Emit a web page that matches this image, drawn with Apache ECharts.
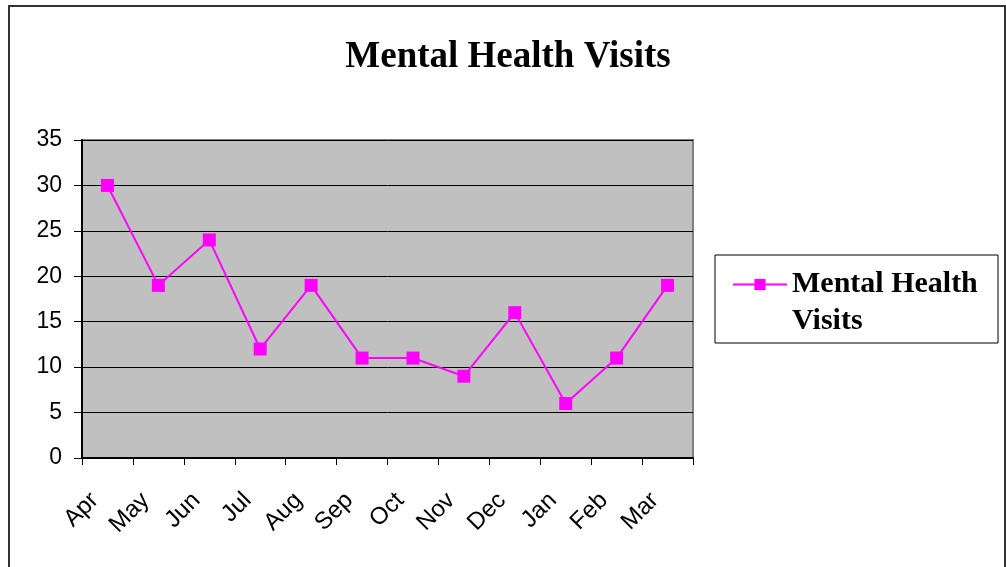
<!DOCTYPE html>
<html>
<head>
<meta charset="utf-8">
<script src="https://cdn.jsdelivr.net/npm/echarts@6/dist/echarts.min.js"></script>
<style>
  html, body { margin: 0; padding: 0; background: #fff; }
  #chart { width: 1006px; height: 567px; }
</style>
</head>
<body>
<div id="chart"></div>
<script>
const months = ['Apr', 'May', 'Jun', 'Jul', 'Aug', 'Sep', 'Oct', 'Nov', 'Dec', 'Jan', 'Feb', 'Mar'];
const visits = [30, 19, 24, 12, 19, 11, 11, 9, 16, 6, 11, 19];
const seriesName = 'Mental Health Visits';

const chart = echarts.init(document.getElementById('chart'));

chart.setOption({
  animation: false,
  backgroundColor: '#fff',
  title: {
    text: seriesName,
    left: 503,
    textAlign: 'center',
    top: 34,
    textStyle: {
      fontFamily: 'Liberation Serif',
      fontWeight: 'bold',
      fontSize: 37,
      color: '#000'
    }
  },
  graphic: [
    {
      type: 'rect',
      shape: {x: 9, y: 6, width: 996, height: 600},
      style: {fill: 'none', stroke: '#333', lineWidth: 2},
      silent: true
    },
    {
      type: 'rect',
      shape: {x: 715, y: 255, width: 283, height: 88},
      style: {fill: 'none', stroke: '#000', lineWidth: 1},
      silent: true
    }
  ],
  legend: {
    left: 727,
    top: 224,
    orient: 'vertical',
    itemWidth: 54,
    itemHeight: 14,
    formatter: function () {
      return '\nMental Health\nVisits';
    },
    textStyle: {
      fontFamily: 'Liberation Serif',
      fontWeight: 'bold',
      fontSize: 30,
      lineHeight: 37,
      color: '#000'
    }
  },
  grid: {
    left: 82,
    right: 313,
    top: 140,
    bottom: 109,
    show: true,
    backgroundColor: '#c0c0c0',
    borderColor: '#808080',
    borderWidth: 2
  },
  xAxis: {
    type: 'category',
    data: months,
    boundaryGap: true,
    axisLine: {lineStyle: {color: '#000', width: 2}},
    axisTick: {show: true, length: 7, lineStyle: {color: '#000'}},
    axisLabel: {
      rotate: 45,
      interval: 0,
      margin: 26,
      padding: [0, 18, 0, 0],
      fontFamily: 'Liberation Sans',
      fontSize: 24,
      color: '#000'
    },
    splitLine: {show: false}
  },
  yAxis: {
    type: 'value',
    min: 0,
    max: 35,
    interval: 5,
    axisLine: {show: true, lineStyle: {color: '#000', width: 2}},
    axisTick: {show: true, length: 8, lineStyle: {color: '#000'}},
    axisLabel: {
      margin: 20,
      fontFamily: 'Liberation Sans',
      fontSize: 23,
      color: '#000'
    },
    splitLine: {show: true, lineStyle: {color: '#000', width: 1}}
  },
  series: [{
    name: seriesName,
    type: 'line',
    data: visits,
    symbol: 'rect',
    symbolSize: 13,
    color: '#ff00ff',
    lineStyle: {color: '#ff00ff', width: 2},
    itemStyle: {color: '#ff00ff'}
  }]
});
</script>
</body>
</html>
